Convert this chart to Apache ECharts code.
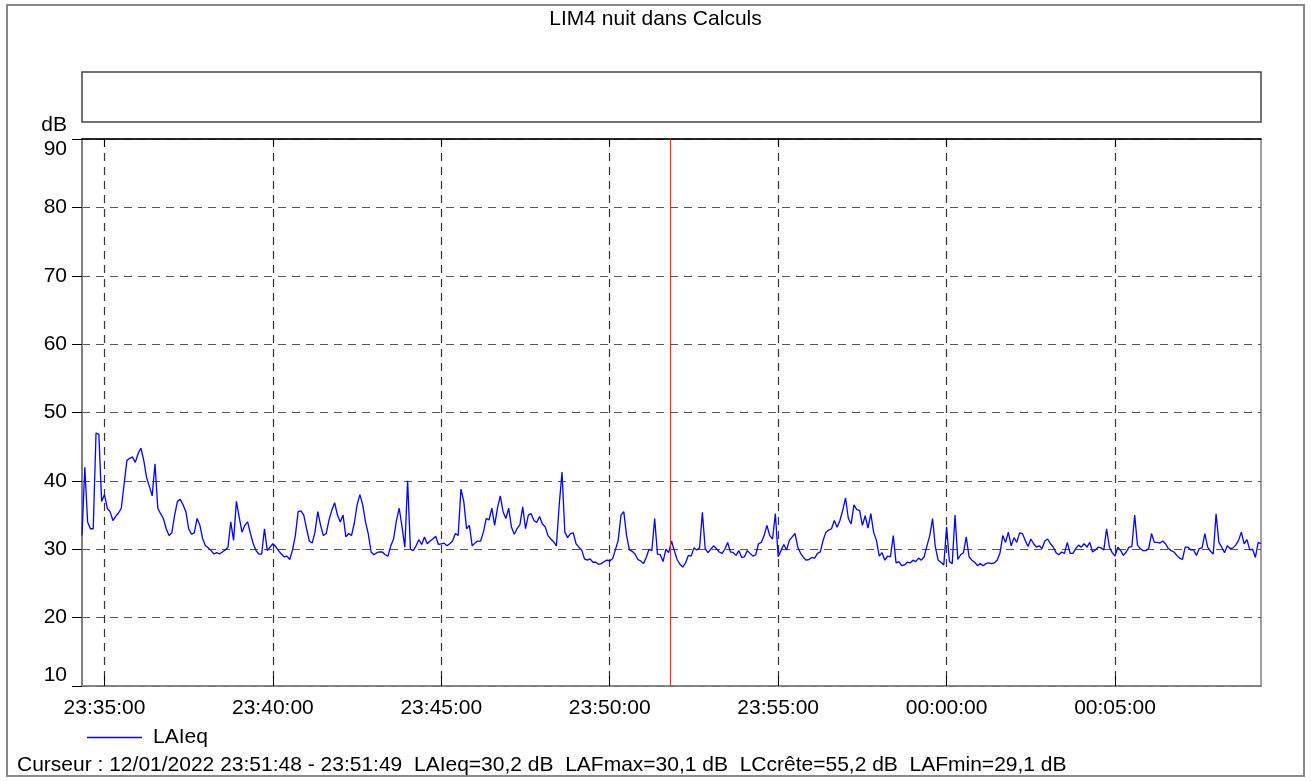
<!DOCTYPE html>
<html>
<head>
<meta charset="utf-8">
<title>LIM4 nuit dans Calculs</title>
<script src="https://cdn.jsdelivr.net/npm/echarts@6/dist/echarts.min.js"></script>
<style>
    html, body { margin: 0; padding: 0; background: #fff; }
    #chart { width: 1311px; height: 781px; }
</style>
</head>
<body>
<div id="chart"></div>
<script>
// axe x : secondes depuis 23:35:00 (12/01/2022), un point toutes les 5 s
var debutSec = -40;
var finSec = 2060;
var pasSec = 5;
var ticksSec = [0, 300, 600, 900, 1200, 1500, 1800];
var curseurSec = 1008.5;
var heureRef = 23 * 3600 + 35 * 60;

// LAeq en dB (par tranches)
var laeq1 = [32, 42, 34, 33, 33, 47, 46.8, 37, 38, 36, 35.5, 34.2, 34.8, 35.3, 36, 39.5, 43, 43.3, 43.5, 42.7,
    44, 44.8, 43, 40.5, 39.2, 37.8, 42.5, 36, 35.2, 34.5, 33, 32, 32.4, 35, 37, 37.3, 36.5, 35.5, 33, 32.2,
    32.4, 34.5, 33.5, 31.5, 30.5, 30.2, 29.8, 29.3, 29.5, 29.3, 29.6, 29.9, 30.3, 34];
var laeq2 = [31.3, 37, 34.7, 32.5, 33.5, 34, 32.3, 30.8, 29.8, 29.3, 29.3, 33, 29.8, 30.3, 30.8, 30.4, 29.8, 29.3, 28.9, 29,
    28.5, 29.9, 32, 35.5, 35.6, 35, 33, 31.2, 30.9, 32.5, 35.5, 33.5, 32, 32.3, 34.3, 35.7, 36.8, 35, 34, 35,
    31.8, 32.3, 32, 33.8, 36.5, 38, 36.5, 34, 32.2, 29.6, 29.2, 29.5, 29.6];
var laeq3 = [29.6, 29.2, 29, 30.5, 31.5, 34.2, 36, 33.3, 30.3, 40, 30, 29.8, 30.5, 31.4, 30.7, 31.8, 30.8, 31.2, 31.5, 31.9,
    30.7, 30.8, 30.9, 30.5, 30.8, 31.2, 32.3, 32, 38.8, 37, 33, 33.5, 30.5, 30.9, 31.2, 31.2, 32.5, 34.5, 34.3, 36,
    33.5, 36, 37.8, 35.5, 34.5, 36, 33.2, 32.2, 33, 33.6, 36.2, 33, 35];
var laeq4 = [35.2, 34.2, 33.9, 34.8, 33.7, 33.3, 32, 31.5, 31.1, 30.5, 36.5, 41.3, 32.5, 31.7, 32.3, 32.4, 30.8, 30.3, 29.9, 28.6,
    28.4, 28.6, 28.1, 28.1, 27.8, 27.9, 28.2, 28.4, 28.3, 28.6, 29.9, 31.3, 35, 35.5, 32, 29.9, 29.7, 29.3, 28.5, 28.3,
    27.9, 28.8, 30, 29.8, 34.5, 29.3, 29.2, 28.2, 30, 29.5, 31.2, 29.8];
var laeq5 = [28.5, 27.8, 27.4, 28, 29.1, 29, 30.2, 29.9, 30.2, 35.4, 30.1, 29.5, 30, 30.5, 30.1, 29.6, 29.4, 30, 31, 29.6,
    29.5, 29.1, 29.8, 28.8, 28.9, 29.8, 29.4, 29, 29.2, 30.8, 31, 32, 33.5, 32, 31.5, 35.2, 28.9, 29.8, 30.7, 29.9,
    31.3, 31.8, 32.3, 30.3, 29.4, 28.8, 28.4, 28.5, 28.8, 28.7, 29.4, 29.6, 31.3];
var laeq6 = [32.5, 32.8, 33, 34.2, 33.2, 34.2, 35.7, 37.5, 34.5, 33.7, 36.5, 35.8, 35.7, 33.5, 34.9, 33.1, 35.2, 32.5, 31.3, 29,
    29.5, 28.4, 29, 28.9, 32, 28, 28.2, 27.6, 27.7, 28.1, 28, 28.4, 28.2, 28.7, 28.4, 28.9, 30.5, 32, 34.5, 30.3,
    28.4, 28.1, 27.7, 33.3, 28.2, 27.9, 35, 28.5, 29.2, 29.5, 31.8, 28.9, 28.4];
var laeq7 = [28.1, 27.6, 27.9, 27.6, 27.9, 28, 27.9, 28, 28.4, 29.4, 32, 31, 32.5, 30.5, 31.7, 31, 32.4, 32.3, 31.3, 30.4,
    31.5, 30.8, 30.3, 30.5, 30.1, 31.2, 31.5, 30.8, 30.3, 29.5, 29.2, 29.6, 29.4, 31, 29.4, 29.4, 30.1, 30.6, 30.3, 30.8,
    30.3, 31, 29.6, 29.9, 30.3, 30.2, 29.9, 33, 30.3, 29.5, 29, 30.3];
var laeq8 = [29.8, 29.1, 29.6, 30.3, 30.4, 35, 30.6, 30.1, 29.8, 29.8, 30.1, 32.3, 31, 31, 30.9, 31.2, 30.8, 30.1, 29.8, 29.6,
    29.1, 28.7, 28.5, 30.3, 30.3, 29.9, 29.9, 29.1, 30.1, 30.2, 32.3, 30.3, 29.7, 29.3, 35.2, 31, 30.3, 29.5, 30.5, 30.1,
    30.2, 30.6, 31.3, 32.5, 30.8, 31.4, 29.9, 30, 28.8, 31, 30.8];

var police = "'Liberation Sans', Arial, sans-serif";

var laeq = [].concat(laeq1, laeq2, laeq3, laeq4, laeq5, laeq6, laeq7, laeq8);
var points = laeq.map(function (v, i) {
    return [debutSec + i * pasSec, v];
});

function deux(n) {
    return n < 10 ? '0' + n : '' + n;
}
// secondes -> HH:mm:ss
function heure(sec) {
    var t = ((heureRef + Math.round(sec)) % 86400 + 86400) % 86400;
    return deux(Math.floor(t / 3600)) + ':' + deux(Math.floor(t % 3600 / 60)) + ':' + deux(t % 60);
}

var myChart = echarts.init(document.getElementById('chart'));

var option = {
    animation: false,
    backgroundColor: '#fff',
    title: {
        text: 'LIM4 nuit dans Calculs',
        left: 'center',
        top: 4,
        textStyle: { fontFamily: police, fontSize: 21, fontWeight: 'normal', color: '#000' }
    },
    legend: {
        left: 82,
        top: 722,
        icon: 'rect',
        itemWidth: 55,
        itemHeight: 1.5,
        textStyle: { fontFamily: police, fontSize: 21, color: '#000', padding: [0, 0, 0, 6] },
        data: ['LAIeq']
    },
    grid: {
        left: 82,
        right: 50,
        top: 139,
        bottom: 95,
        show: true,
        borderColor: '#808080',
        borderWidth: 1.5
    },
    xAxis: [{
        type: 'value',
        position: 'bottom',
        min: debutSec,
        max: finSec,
        axisLine: { show: true, onZero: false, lineStyle: { color: '#808080', width: 1.5 } },
        axisTick: { show: true, inside: true, length: 10, customValues: ticksSec, lineStyle: { color: '#000' } },
        axisLabel: {
            customValues: ticksSec,
            formatter: heure,
            margin: 12,
            fontFamily: police,
            fontSize: 21,
            color: '#000'
        },
        splitLine: { show: true, lineStyle: { type: [8, 6], color: '#333', width: 1.2 } }
    }, {
        type: 'value',
        position: 'top',
        min: debutSec,
        max: finSec,
        axisLine: { show: true, onZero: false, lineStyle: { color: '#000', width: 1.5 } },
        axisTick: { show: true, inside: true, length: 8, customValues: ticksSec, lineStyle: { color: '#000' } },
        axisLabel: { show: false },
        splitLine: { show: false }
    }],
    yAxis: {
        type: 'value',
        min: 10,
        max: 90,
        interval: 10,
        name: 'dB',
        nameLocation: 'end',
        nameGap: 3,
        nameTextStyle: { fontFamily: police, fontSize: 21, color: '#000', align: 'right', padding: [0, 15, 0, 0] },
        axisLine: { show: true, onZero: false, lineStyle: { color: '#808080', width: 2 } },
        axisTick: { show: true, inside: false, length: 10, lineStyle: { color: '#000' } },
        axisLabel: {
            margin: 15,
            fontFamily: police,
            fontSize: 21,
            color: '#000',
            verticalAlignMinLabel: 'bottom',
            verticalAlignMaxLabel: 'top'
        },
        splitLine: { show: true, lineStyle: { type: [8, 6], color: '#555', width: 1.2 } }
    },
    series: [{
        name: 'LAIeq',
        type: 'line',
        xAxisIndex: 0,
        symbol: 'none',
        data: points,
        lineStyle: { color: '#0000ff', width: 1.3 },
        itemStyle: { color: '#0000ff' },
        markLine: {
            silent: true,
            symbol: ['none', 'none'],
            label: { show: false },
            lineStyle: { color: '#ff2a2a', width: 1.2, type: 'solid' },
            data: [{ xAxis: curseurSec }]
        }
    }],
    graphic: [{
        type: 'rect',
        shape: { x: 7, y: 5, width: 1297, height: 771 },
        style: { fill: 'none', stroke: '#888', lineWidth: 2 },
        silent: true
    }, {
        type: 'rect',
        shape: { x: 82, y: 72, width: 1179, height: 50 },
        style: { fill: 'none', stroke: '#444', lineWidth: 1.5 },
        silent: true
    }, {
        type: 'text',
        left: 17,
        top: 755,
        style: {
            text: 'Curseur : 12/01/2022 23:51:48 - 23:51:49  LAIeq=30,2 dB  LAFmax=30,1 dB  LCcrête=55,2 dB  LAFmin=29,1 dB',
            font: '21px ' + police,
            fill: '#000'
        },
        silent: true
    }]
};

myChart.setOption(option);
</script>
</body>
</html>
